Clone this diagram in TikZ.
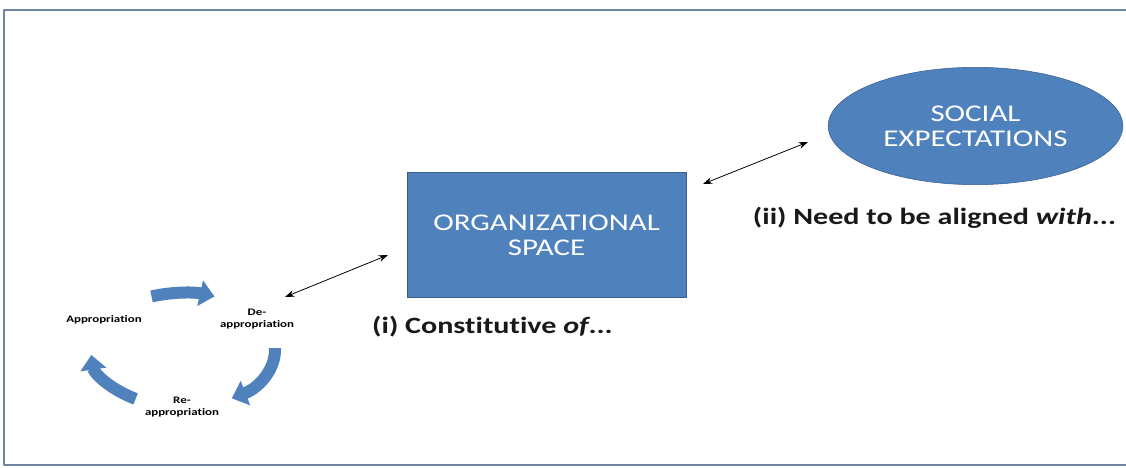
\documentclass[tikz,border=0pt]{standalone}
\usepackage{fontspec}
\setmainfont[FakeStretch=1.29,Ligatures=NoCommon]{Carlito}
\usetikzlibrary{shapes.geometric,arrows.meta}
\definecolor{boxblue}{HTML}{4F81BD}
\definecolor{boxedge}{HTML}{385D8A}
\definecolor{framecol}{HTML}{6E84A3}
\begin{document}
\begin{tikzpicture}[x=0.75pt,y=-0.75pt,line join=round,>={Stealth[length=7pt,width=5pt]},
	shapetext/.style={text=white,align=center,font=\fontsize{18}{19}\selectfont},
	caption/.style={font=\fontsize{17.5}{20}\selectfont\bfseries,text=black!90},
	cyclabel/.style={font=\fontsize{7.5}{8.5}\selectfont\bfseries,align=center,inner sep=0},
	cycarrow/.style={boxblue,line width=9pt,-{Triangle[width=19pt,length=11pt]}},
	link/.style={<->,line width=0.6pt}]
	\useasboundingbox (0,0) rectangle (1126,467);
	\draw[framecol,line width=1.2pt] (1126,10)--(4,10)--(4,465)--(1126,465);
	\path(546.5,235)node[rectangle,fill=boxblue,draw=boxedge,
	minimum width=209pt,minimum height=94pt,shapetext](org){ORGANIZATIONAL\\SPACE}
	(975.5,126)node[ellipse,fill=boxblue,draw=boxedge,
	minimum width=221pt,minimum height=88pt,shapetext,inner sep=0](soc){SOCIAL\\EXPECTATIONS}
	;
	\path(492.5,327)node[caption](capi){(i) Constitutive \textit{of}...}
	(934.5,218)node[caption](capii){(ii) Need to be aligned \textit{with}...}
	;
	\path(104,320)node[cyclabel](appr){Appropriation}
	(257,319)node[cyclabel](deappr){De-\\appropriation}
	(182,407)node[cyclabel](reappr){Re-\\appropriation}
	;
	% cycle of appropriation
	\begin{scope}[shift={(183,350)},y=0.75pt]
	\draw[cycarrow] (110:92 and 57) arc[start angle=110,end angle=70,x radius=92,y radius=57];
	\draw[cycarrow] (2:92 and 57) arc[start angle=2,end angle=-58,x radius=92,y radius=57];
	\draw[cycarrow] (-121:92 and 57) arc[start angle=-121,end angle=-175,x radius=92,y radius=57];
	\end{scope}
	\path(285,297)coordinate(l1) (388,255)coordinate(l2)
	(703,184)coordinate(l3) (808,142)coordinate(l4);
	\draw[link](l1)--(l2);
	\draw[link](l3)--(l4);
\end{tikzpicture}
\end{document}
